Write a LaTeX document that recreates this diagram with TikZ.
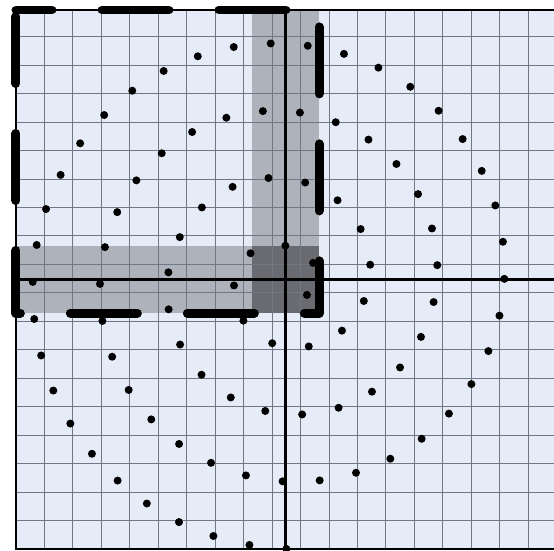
\documentclass[tikz,border=0pt]{standalone}
\usepackage{tikz}

\definecolor{paper}{RGB}{229,235,247}
\definecolor{gridline}{RGB}{112,120,134}
\definecolor{band}{RGB}{174,178,186}
\definecolor{overlap}{RGB}{106,107,112}

\begin{document}
\begin{tikzpicture}[
            cellgrid/.style={draw=gridline,line width=0.8pt},
            strip/.style={fill=band},
            core/.style={fill=overlap},
            axis/.style={draw=black,line width=2.4pt},
            rim/.style={draw=black,line width=9pt,line cap=round,line join=round,
                dash pattern=on 67pt off 50pt,dash phase=31pt},
            dot/.style={fill=black},
            x=16.84pt, y=16.84pt
        ]

        \tikzset{
            dotsize/.style={radius=4pt},
        }

        \useasboundingbox (-0.95,-0.12) rectangle (31.95,32.594);

        \fill[paper] (0,0) rectangle (32,32);
        \fill[strip] (14,14) rectangle (18,32);
        \fill[strip] (0,14) rectangle (14,18);
        \fill[core] (14,14) rectangle (18,18);
        \draw[cellgrid] (0,0) grid (32,32);

        \coordinate (top) at (16,32);
        \coordinate (bottom) at (16,0);
        \coordinate (left) at (0,16);
        \coordinate (right) at (32,16);
        \draw[axis] (top) -- (bottom);
        \draw[axis] (left) -- (right);
        \draw[axis] (0,0) rectangle (32,32);

        % spiral samples, equal arc length
        \foreach \k in {0,...,90}{
            \pgfmathsetmacro{\qq}{2*(3.89+2.207*\k)/0.63662}
            \pgfmathsetmacro{\ph}{sqrt(\qq)}
            \pgfmathsetmacro{\ph}{sqrt(\qq-0.5-ln(2*\ph))}
            \pgfmathsetmacro{\ph}{sqrt(\qq-0.5-ln(2*\ph))}
            \pgfmathsetmacro{\ph}{sqrt(\qq-0.5-ln(2*\ph))}
            \fill[dot] ({16+0.63662*\ph*cos(deg(\ph)-90)},{16+0.63662*\ph*sin(deg(\ph)-90)}) circle[dotsize];
        }
        \fill[dot] (17.64,16.98) circle[dotsize];
        \fill[dot] (17.28,15.08) circle[dotsize];

        \draw[rim] (0,32) -- (18,32) -- (18,14) -- (0,14) -- cycle;

    \end{tikzpicture}
\end{document}
